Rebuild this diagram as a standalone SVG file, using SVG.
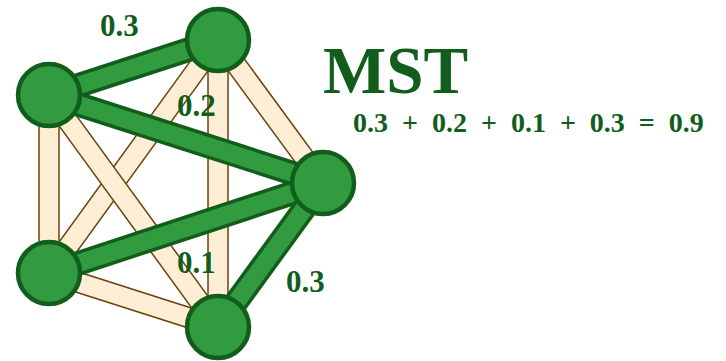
<svg xmlns="http://www.w3.org/2000/svg" width="726" height="361" viewBox="0 0 726 361">
<rect width="726" height="361" fill="#ffffff"/>
<g id="connectors" fill="none">
  <g id="e-B-D"><line stroke="#6b4008" stroke-width="21.5" x1="218" y1="40" x2="49" y2="273"/><line stroke="#ffeed6" stroke-width="18.5" x1="218" y1="40" x2="49" y2="273"/></g>
  <g id="e-A-E"><line stroke="#6b4008" stroke-width="21.5" x1="49" y1="95" x2="218" y2="327"/><line stroke="#ffeed6" stroke-width="18.5" x1="49" y1="95" x2="218" y2="327"/></g>
  <g id="e-B-C"><line stroke="#6b4008" stroke-width="21.5" x1="218" y1="40" x2="323" y2="183"/><line stroke="#ffeed6" stroke-width="18.5" x1="218" y1="40" x2="323" y2="183"/></g>
  <g id="e-D-E"><line stroke="#6b4008" stroke-width="21.5" x1="49" y1="273" x2="218" y2="327"/><line stroke="#ffeed6" stroke-width="18.5" x1="49" y1="273" x2="218" y2="327"/></g>
  <g id="e-A-D"><line stroke="#6b4008" stroke-width="21.5" x1="49" y1="95" x2="49" y2="273"/><line stroke="#ffeed6" stroke-width="18.5" x1="49" y1="95" x2="49" y2="273"/></g>
  <g id="e-B-E"><line stroke="#6b4008" stroke-width="21.5" x1="218" y1="40" x2="218" y2="327"/><line stroke="#ffeed6" stroke-width="18.5" x1="218" y1="40" x2="218" y2="327"/></g>
  <g id="e-A-B"><line stroke="#115e1c" stroke-width="24.5" x1="49" y1="95" x2="218" y2="40"/><line stroke="#339b3f" stroke-width="17.5" x1="49" y1="95" x2="218" y2="40"/></g>
  <g id="e-A-C"><line stroke="#115e1c" stroke-width="24.5" x1="49" y1="95" x2="323" y2="183"/><line stroke="#339b3f" stroke-width="17.5" x1="49" y1="95" x2="323" y2="183"/></g>
  <g id="e-D-C"><line stroke="#115e1c" stroke-width="24.5" x1="49" y1="273" x2="323" y2="183"/><line stroke="#339b3f" stroke-width="17.5" x1="49" y1="273" x2="323" y2="183"/></g>
  <g id="e-C-E"><line stroke="#115e1c" stroke-width="24.5" x1="323" y1="183" x2="218" y2="327"/><line stroke="#339b3f" stroke-width="17.5" x1="323" y1="183" x2="218" y2="327"/></g>
</g>
<g fill="#339b3f" stroke="#115e1c" stroke-width="4.5">
  <g id="node-A"><circle cx="49" cy="95" r="31"/></g>
  <g id="node-B"><circle cx="218" cy="40" r="31"/></g>
  <g id="node-C"><circle cx="323" cy="183" r="31"/></g>
  <g id="node-D"><circle cx="49" cy="273" r="31"/></g>
  <g id="node-E"><circle cx="218" cy="327" r="31"/></g>
</g>
<g id="labels" fill="#115e1c">
  <text x="323" y="93" font-size="67" font-family="Liberation Serif, serif" font-weight="700">MST</text>
  <text x="353" y="132" font-size="28" font-family="Liberation Serif, serif" font-weight="700">0.3 &#160;+&#160; 0.2 &#160;+&#160; 0.1 &#160;+&#160; 0.3 &#160;=&#160; 0.9</text>
  <text x="100" y="36" font-size="31" font-family="Liberation Serif, serif" font-weight="700">0.3</text>
  <text x="177" y="116" font-size="31" font-family="Liberation Serif, serif" font-weight="700">0.2</text>
  <text x="177" y="273" font-size="31" font-family="Liberation Serif, serif" font-weight="700">0.1</text>
  <text x="286" y="292" font-size="31" font-family="Liberation Serif, serif" font-weight="700">0.3</text>
</g>
</svg>
